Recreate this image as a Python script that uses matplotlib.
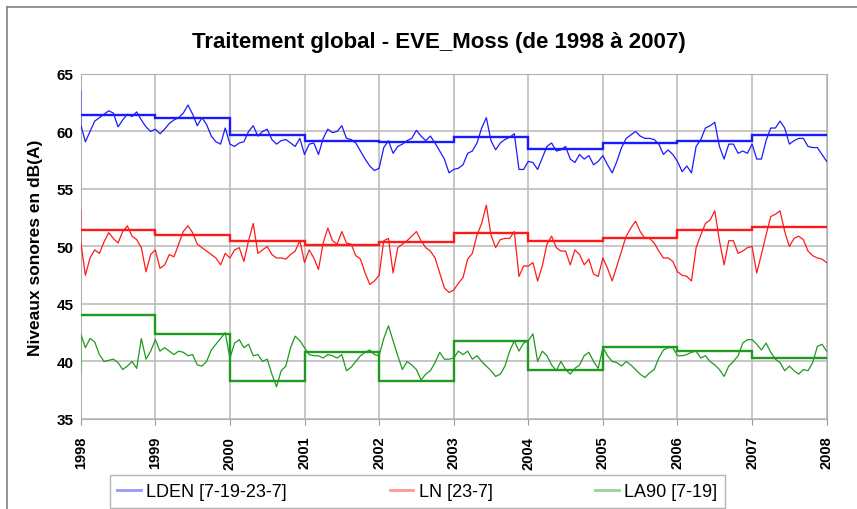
import numpy as np
import matplotlib
matplotlib.use("Agg")
import matplotlib.pyplot as plt
from matplotlib.lines import Line2D

plt.rcParams['font.family'] = ['Liberation Sans', 'DejaVu Sans']

# sampling: 16 readings per year, 1998.0 .. 2008.0; the first reading of
# each series is a start-up outlier logged on the very first day
years = np.arange(1998, 2009)
year_ticks = [str(y) for y in years]
t = 1998 + np.arange(161) / 16

lden = [63.5,
        60.6, 59.1, 60.0, 60.9, 61.2, 61.5, 61.8, 61.6, 60.4, 61.0, 61.5, 61.3, 61.7, 61.0, 60.4, 60.0,
        60.2, 59.8, 60.2, 60.7, 61.0, 61.2, 61.6, 62.3, 61.5, 60.5, 61.2, 60.6, 59.6, 59.1, 58.9, 60.3,
        58.9, 58.7, 59.0, 59.1, 60.0, 60.5, 59.6, 60.0, 60.2, 59.3, 58.9, 59.2, 59.3, 59.0, 58.7, 59.4,
        58.0, 58.9, 59.0, 58.0, 59.4, 60.2, 59.9, 60.0, 60.5, 59.4, 59.3, 59.0, 58.3, 57.6, 57.0, 56.6,
        56.8, 58.6, 59.2, 58.1, 58.7, 58.9, 59.2, 59.4, 60.1, 59.6, 59.2, 59.6, 59.0, 58.3, 57.6, 56.4,
        56.7, 56.8, 57.1, 58.1, 58.3, 59.0, 60.3, 61.2, 59.2, 58.4, 59.0, 59.3, 59.5, 59.8, 56.7, 56.7,
        57.4, 57.3, 56.7, 57.7, 58.7, 59.0, 58.3, 58.4, 58.7, 57.6, 57.3, 58.0, 57.6, 57.9, 57.1, 57.4,
        57.9, 57.1, 56.4, 57.4, 58.6, 59.4, 59.7, 60.0, 59.6, 59.4, 59.4, 59.3, 58.9, 58.0, 58.4, 58.0,
        57.4, 56.5, 57.0, 56.4, 58.7, 59.3, 60.3, 60.5, 60.8, 58.7, 57.6, 58.9, 58.9, 58.1, 58.3, 58.1,
        58.9, 57.6, 57.6, 59.2, 60.3, 60.3, 60.9, 60.3, 58.9, 59.2, 59.4, 59.4, 58.7, 58.6, 58.6, 58.0,
        57.4]

ln = [53.1,
      50.4, 47.5, 49.0, 49.7, 49.4, 50.4, 51.2, 50.7, 50.3, 51.3, 51.8, 50.9, 50.6, 49.9, 47.8, 49.3,
      49.7, 48.1, 48.4, 49.3, 49.1, 50.2, 51.3, 51.8, 51.2, 50.2, 49.9, 49.6, 49.3, 49.0, 48.4, 49.4,
      49.0, 49.7, 49.9, 48.7, 50.5, 52.0, 49.4, 49.7, 50.0, 49.3, 49.0, 49.0, 48.9, 49.3, 49.6, 50.5,
      48.6, 49.7, 49.0, 48.0, 50.3, 51.6, 50.5, 50.2, 51.3, 50.3, 50.2, 49.2, 48.9, 47.7, 46.7, 47.0,
      47.5, 50.5, 50.7, 47.7, 49.9, 50.2, 50.5, 50.9, 51.3, 50.5, 49.9, 49.6, 49.0, 47.7, 46.4, 46.0,
      46.2, 46.8, 47.3, 48.9, 49.4, 51.0, 52.0, 53.6, 51.0, 49.9, 50.6, 50.7, 50.7, 51.3, 47.4, 48.3,
      48.3, 48.6, 47.0, 48.3, 50.2, 50.9, 49.9, 49.6, 49.6, 48.4, 49.7, 49.3, 48.4, 48.9, 47.6, 47.4,
      49.0, 48.1, 47.0, 48.3, 49.6, 50.9, 51.6, 52.2, 51.3, 50.7, 50.7, 50.3, 49.6, 49.0, 49.0, 48.7,
      47.8, 47.5, 47.4, 47.0, 49.9, 51.0, 52.0, 52.3, 53.1, 50.5, 48.4, 50.5, 50.5, 49.4, 49.6, 49.9,
      50.0, 47.7, 49.3, 51.0, 52.6, 52.8, 53.1, 51.3, 50.0, 50.7, 50.9, 50.6, 49.6, 49.2, 49.0, 48.9,
      48.6]

la90 = [39.2,
        42.4, 41.2, 42.0, 41.7, 40.6, 40.0, 40.1, 40.2, 39.9, 39.3, 39.6, 40.0, 39.4, 42.0, 40.2, 40.9,
        41.9, 40.9, 41.2, 40.9, 40.6, 40.9, 40.8, 40.5, 40.6, 39.7, 39.6, 40.0, 41.0, 41.5, 42.0, 42.5,
        40.3, 41.6, 41.9, 41.2, 41.5, 40.5, 40.6, 40.0, 40.2, 38.9, 37.8, 39.2, 39.6, 41.2, 42.2, 41.8,
        41.2, 40.6, 40.5, 40.5, 40.3, 40.6, 40.5, 40.3, 40.6, 39.2, 39.5, 40.0, 40.5, 40.8, 41.0, 40.6,
        40.5, 42.0, 43.1, 41.8, 40.5, 39.3, 40.0, 39.7, 39.3, 38.4, 38.9, 39.2, 39.9, 40.8, 40.2, 40.2,
        40.3, 40.9, 40.6, 40.9, 40.2, 40.5, 40.0, 39.6, 39.2, 38.7, 38.9, 39.6, 40.9, 41.8, 40.9, 41.6,
        41.8, 42.4, 40.0, 40.9, 40.5, 39.7, 39.2, 40.0, 39.3, 38.9, 39.4, 39.7, 40.5, 40.8, 40.0, 39.4,
        41.2, 40.5, 40.0, 39.9, 39.6, 40.0, 39.7, 39.3, 38.9, 38.6, 39.0, 39.3, 40.3, 41.0, 41.2, 41.2,
        40.5, 40.5, 40.6, 40.8, 40.9, 40.3, 40.5, 40.0, 39.7, 39.3, 38.7, 39.6, 40.0, 40.5, 41.6, 41.9,
        41.9, 41.5, 41.0, 41.6, 40.8, 40.2, 39.9, 39.2, 39.6, 39.2, 38.9, 39.3, 39.2, 39.9, 41.3, 41.5,
        40.9]

# yearly means (one value per calendar year)
lden_year = [61.4, 61.15, 59.65, 59.15, 59.1, 59.5, 58.45, 59.0, 59.2, 59.7]
ln_year = [51.4, 51.0, 50.5, 50.15, 50.4, 51.2, 50.5, 50.7, 51.4, 51.7]
la90_year = [44.0, 42.4, 38.3, 40.8, 38.3, 41.8, 39.3, 41.25, 40.95, 40.3]

labels = ["LDEN [7-19-23-7]", "LN [23-7]", "LA90 [7-19]"]
colors = ["#1a1aff", "#ff1a1a", "#1f9a1f"]

x = np.concatenate([[1998.0], t])

fig = plt.figure(figsize=(8.57, 5.10), dpi=100)
ax = fig.add_axes([0.0942, 0.1765, 0.8704, 0.6765])

for vals, yearly, c in zip([lden, ln, la90], [lden_year, ln_year, la90_year], colors):
    ax.plot(x, vals, color=c, lw=0.9, zorder=3)
    ax.stairs(yearly, years, baseline=None, color=c, lw=1.7, zorder=4)

ax.set_xlim(1998, 2008)
ax.set_ylim(35, 65)
ax.set_xticks(years)
ax.set_xticklabels(year_ticks, rotation=90, fontsize=10.5, fontweight='bold')
ax.set_yticks(np.arange(35, 66, 5))
ax.tick_params(axis='y', labelsize=11, length=0, pad=5)
ax.tick_params(axis='x', length=4, color='#999999', pad=8)
for lab in ax.get_yticklabels():
    lab.set_fontweight('bold')
ax.grid(True, color='#b8b8b8', lw=1.1, zorder=0)
for s in ax.spines.values():
    s.set_color('#b0b0b0')

ax.set_ylabel("Niveaux sonores en dB(A)", fontsize=12.5, fontweight='bold', labelpad=10)
fig.text(0.512, 0.916, "Traitement global - EVE_Moss (de 1998 à 2007)",
         ha='center', va='center', fontsize=16, fontweight='bold')

handles = [Line2D([], [], color=c, lw=2, alpha=0.45) for c in colors]
leg = fig.legend(handles, labels, ncol=3, loc='center',
                 bbox_to_anchor=(0.487, 0.0343), fontsize=13, frameon=True,
                 fancybox=False, handlelength=1.3, handletextpad=0.3,
                 columnspacing=5.7, borderpad=0.42)
leg.get_frame().set_edgecolor('#a0a0a0')
leg.get_frame().set_linewidth(1.0)

# outer chart frame (left and top edges)
fig.add_artist(Line2D([7.5 / 857, 7.5 / 857], [0, 1 - 8 / 510], transform=fig.transFigure,
                      color='#808080', lw=1.2))
fig.add_artist(Line2D([7 / 857, 1], [1 - 8 / 510, 1 - 8 / 510], transform=fig.transFigure,
                      color='#808080', lw=1.2))

fig.savefig("out.png", dpi=100)
